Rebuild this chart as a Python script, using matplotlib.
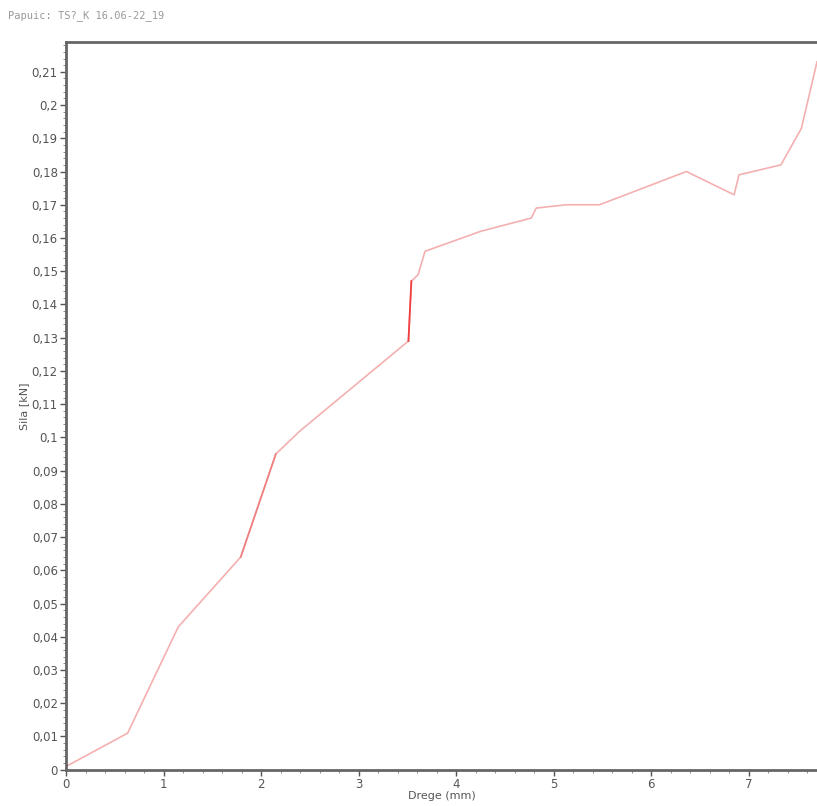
import matplotlib
matplotlib.use("Agg")
import matplotlib.pyplot as plt
from matplotlib.ticker import FuncFormatter, MultipleLocator

# displacement [mm] and force [kN]
pomik = [0.0, 0.63, 1.15, 1.79, 2.15, 2.40, 3.51, 3.54, 3.61, 3.68, 4.25,
         4.77, 4.82, 5.13, 5.47, 6.36, 6.85, 6.90, 7.33, 7.54, 7.70]
sila = [0.001, 0.011, 0.043, 0.064, 0.095, 0.102, 0.129, 0.147, 0.149, 0.156, 0.162,
        0.166, 0.169, 0.170, 0.170, 0.180, 0.173, 0.179, 0.182, 0.193, 0.213]

x_ticks = [0, 1, 2, 3, 4, 5, 6, 7]
y_ticks = [round(0.01 * i, 2) for i in range(22)]

title = "Papuic: TS?_K 16.06-22_19"

fig = plt.figure(figsize=(8.17, 8.06), dpi=100)
ax = fig.add_axes([0.081, 0.045, 0.919, 0.903])

ax.plot(pomik, sila, color="#f4b0b0", linewidth=1.2)
# darker red pieces on the steep parts
ax.plot(pomik[6:8], sila[6:8], color="#f04040", linewidth=1.3)
ax.plot(pomik[3:5], sila[3:5], color="#f08080", linewidth=1.2)

ax.set_xlim(0, 7.7)
ax.set_ylim(0, 0.219)
ax.set_xticks(x_ticks)
ax.set_yticks(y_ticks)
ax.xaxis.set_minor_locator(MultipleLocator(0.2))
ax.yaxis.set_minor_locator(MultipleLocator(0.002))

def comma(v, pos):
    s = f"{v:.2f}".rstrip("0").rstrip(".")
    return s.replace(".", ",")

ax.yaxis.set_major_formatter(FuncFormatter(comma))
ax.tick_params(axis="both", labelsize=8.5, colors="#555555", length=4, width=1, pad=2)
ax.tick_params(which="minor", length=2, color="#777777")

for side, sp in ax.spines.items():
    sp.set_color("#666666")
    sp.set_linewidth(2)
ax.spines["right"].set_visible(False)

ax.set_xlabel("Drege (mm)", fontsize=8, color="#555555", labelpad=0)
ax.set_ylabel("Sila [kN]", fontsize=8, color="#555555", labelpad=2)

fig.text(0.01, 0.978, title, fontsize=7.5, color="#999999", family="DejaVu Sans Mono")

fig.savefig("out.png", dpi=100)
